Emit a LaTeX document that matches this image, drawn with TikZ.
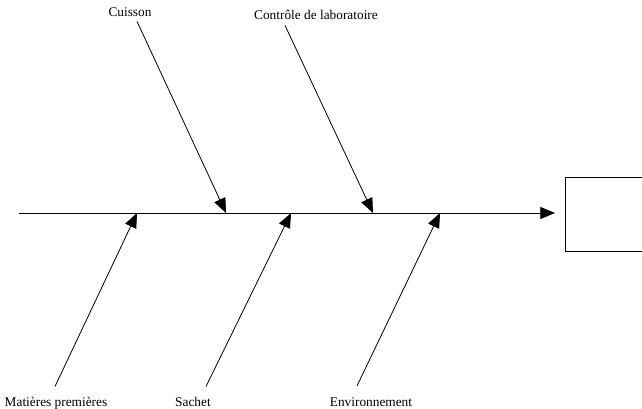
\documentclass[tikz,border=0pt]{standalone}
\usepackage{fontspec}
\setmainfont{Liberation Serif}
\usetikzlibrary{arrows.meta,positioning}
\begin{document}
\begin{tikzpicture}[
  x=0.75pt,y=-0.75pt,
  every node/.style={font=\fontsize{10}{12}\selectfont},
  cause/.style={inner sep=0pt,anchor=base},
  effect/.style={draw,line width=0.6pt,minimum width=75pt,minimum height=56pt,anchor=west,inner sep=0pt},
  bone/.style={-{Triangle[length=11pt,width=9pt]},line width=0.6pt}
]
\useasboundingbox (0,0) rectangle (642,409);
\node[cause] (cui) at (130,17) {Cuisson};
\node[cause] (ctl) at (316,20) {Contrôle de laboratoire};
\node[cause] (mat) at (56,406) {Matières premières};
\node[cause] (sac) at (193,406) {Sachet};
\node[cause] (env) at (371,406) {Environnement};
\node[effect] (eff) at (565,214.5) {};
\coordinate (tail) at (19,213);
\coordinate (tcui) at (226,213);
\coordinate (tctl) at (373,213);
\coordinate (tmat) at (137,213);
\coordinate (tsac) at (291,213);
\coordinate (tenv) at (440,213);
\draw[bone,shorten >=7.5pt] (tail) -- (eff.west |- tail);
\draw[bone] ([shift={(7,4)}]cui.south) -- (tcui);
\draw[bone] ([shift={(-31,5)}]ctl.south) -- (tctl);
\draw[bone] ([shift={(-1,-10)}]mat.north) -- (tmat);
\draw[bone] ([shift={(13,-10)}]sac.north) -- (tsac);
\draw[bone] ([shift={(-14,-11)}]env.north) -- (tenv);
\end{tikzpicture}
\end{document}
